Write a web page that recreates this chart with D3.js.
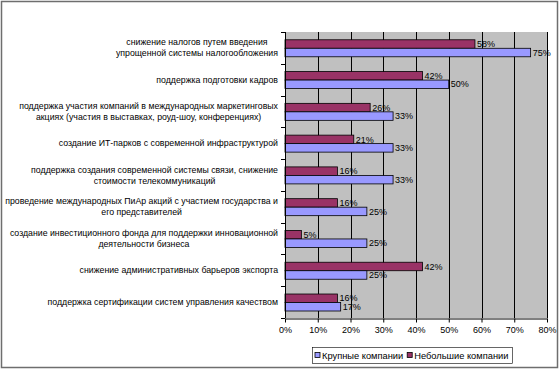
<!DOCTYPE html>
<html>
<head>
<meta charset="utf-8">
<script src="https://cdn.jsdelivr.net/npm/d3@7"></script>
<style>
  body { margin: 0; background: #fff; }
  svg text { font-family: Arial, "Liberation Sans", sans-serif; fill: #000; }
</style>
</head>
<body>
<script>
// categories (each label split into lines as in the picture)
var categories = [
    ["снижение налогов путем введения", "упрощенной системы налогообложения"],
    ["поддержка подготовки кадров"],
    ["поддержка участия компаний в международных маркетинговых", "акциях (участия в выставках, роуд-шоу, конференциях)"],
    ["создание ИТ-парков с современной инфраструктурой"],
    ["поддержка создания современной системы связи, снижение", "стоимости телекоммуникаций"],
    ["проведение международных ПиАр акций с участием государства и", "его представителей"],
    ["создание инвестиционного фонда для поддержки инновационной", "деятельности бизнеса"],
    ["снижение административных барьеров экспорта"],
    ["поддержка сертификации систем управления качеством"]
];
var seriesNames = ["Небольшие компании", "Крупные компании"];
var smallCompanies = [58, 42, 26, 21, 16, 16, 5, 42, 16];
var largeCompanies = [75, 50, 33, 33, 33, 25, 25, 25, 17];
var xTicks = [0, 10, 20, 30, 40, 50, 60, 70, 80];

var colors = {"Небольшие компании": "#993366", "Крупные компании": "#9999FF"};

var W = 560, H = 370;
var plot = {left: 285, right: 547, top: 32, bottom: 318};

var svg = d3.select("body").append("svg")
    .attr("width", W)
    .attr("height", H);

// outer frame
svg.append("rect")
    .attr("x", 1.5).attr("y", 1.5)
    .attr("width", W - 4).attr("height", H - 4)
    .attr("fill", "#fff")
    .attr("stroke", "#6e6e6e")
    .attr("stroke-width", 1.5);

var x = d3.scaleLinear().domain([0, 80]).range([plot.left, plot.right]);
var idx = d3.range(categories.length);
var y0 = d3.scaleBand().domain(idx).range([plot.top, plot.bottom]).padding(0);
var y1 = d3.scaleBand().domain(seriesNames)
    .range([y0.bandwidth() * 0.245, y0.bandwidth() * 0.78]).padding(0);

// plot background
svg.append("rect")
    .attr("x", plot.left).attr("y", plot.top)
    .attr("width", plot.right - plot.left)
    .attr("height", plot.bottom - plot.top)
    .attr("fill", "#C0C0C0");

// gridlines
svg.append("g").selectAll("line")
    .data(xTicks.slice(1))
    .enter().append("line")
    .attr("x1", function(d) { return Math.round(x(d)) + 0.5; })
    .attr("x2", function(d) { return Math.round(x(d)) + 0.5; })
    .attr("y1", plot.top)
    .attr("y2", plot.bottom)
    .attr("stroke", "#000")
    .attr("stroke-width", 1);

// bars
var rows = idx.map(function(i) {
    return [
        {series: seriesNames[0], value: smallCompanies[i], i: i},
        {series: seriesNames[1], value: largeCompanies[i], i: i}
    ];
});

var groups = svg.append("g").selectAll("g")
    .data(rows)
    .enter().append("g")
    .attr("transform", function(d, i) { return "translate(0," + y0(i) + ")"; });

groups.selectAll("rect")
    .data(function(d) { return d; })
    .enter().append("rect")
    .attr("x", x(0))
    .attr("y", function(d) { return y1(d.series); })
    .attr("width", function(d) { return x(d.value) - x(0); })
    .attr("height", y1.bandwidth())
    .attr("fill", function(d) { return colors[d.series]; })
    .attr("stroke", "#000")
    .attr("stroke-width", 0.8);

groups.selectAll("text")
    .data(function(d) { return d; })
    .enter().append("text")
    .attr("x", function(d) { return x(d.value) + 2; })
    .attr("y", function(d) { return y1(d.series) + y1.bandwidth() / 2; })
    .attr("dy", "0.35em")
    .style("font-size", "9px")
    .text(function(d) { return d.value + "%"; });

// axes
var yAxis = svg.append("g");
yAxis.append("line")
    .attr("x1", plot.left + 0.5).attr("x2", plot.left + 0.5)
    .attr("y1", plot.top).attr("y2", plot.bottom)
    .attr("stroke", "#000");
yAxis.selectAll(".tick")
    .data(d3.range(categories.length + 1))
    .enter().append("line")
    .attr("x1", plot.left - 4).attr("x2", plot.left)
    .attr("y1", function(d) { return Math.round(plot.top + d * y0.step()) + 0.5; })
    .attr("y2", function(d) { return Math.round(plot.top + d * y0.step()) + 0.5; })
    .attr("stroke", "#000");

var xAxis = svg.append("g")
    .attr("transform", "translate(0," + (plot.bottom + 0.5) + ")")
    .call(d3.axisBottom(x).tickValues(xTicks).tickSize(4).tickSizeOuter(0)
        .tickFormat(function(d) { return d + "%"; }));
xAxis.select(".domain").attr("stroke", "#000");
xAxis.selectAll("line").attr("stroke", "#000");
xAxis.selectAll("text")
    .style("font-size", "9px")
    .attr("y", 8);

// category labels: lines centered to each other, block right-aligned
var labelRight = 278;
var lineH = 11;
categories.forEach(function(lines, i) {
    var cy = y0(i) + y0.bandwidth() / 2;
    var t = svg.append("text")
        .style("font-size", "8.75px")
        .attr("text-anchor", "middle");
    var spans = lines.map(function(s, k) {
        return t.append("tspan")
            .attr("y", cy + (k - (lines.length - 1) / 2) * lineH)
            .attr("dy", "0.35em")
            .text(s);
    });
    var maxW = d3.max(spans, function(sp) { return sp.node().getComputedTextLength(); });
    spans.forEach(function(sp) { sp.attr("x", labelRight - maxW / 2); });
});

// legend
var legend = svg.append("g");
var box = legend.append("rect")
    .attr("x", 312.5).attr("y", 347.5)
    .attr("height", 16)
    .attr("fill", "#fff")
    .attr("stroke", "#000")
    .attr("stroke-width", 0.6);
var legItems = [seriesNames[1], seriesNames[0]];
var lx = 315;
legItems.forEach(function(name) {
    legend.append("rect")
        .attr("x", lx).attr("y", 352.5)
        .attr("width", 5).attr("height", 5)
        .attr("fill", colors[name])
        .attr("stroke", "#000")
        .attr("stroke-width", 0.8);
    var tx = legend.append("text")
        .attr("x", lx + 7).attr("y", 355.5)
        .attr("dy", "0.35em")
        .style("font-size", "9.3px")
        .text(name);
    lx += 7 + tx.node().getComputedTextLength() + 4;
});
box.attr("width", lx - 312.5);
</script>
</body>
</html>
